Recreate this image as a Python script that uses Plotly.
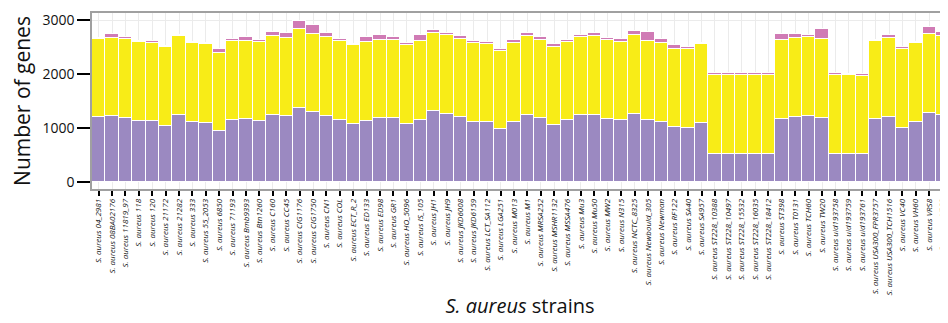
import plotly.graph_objects as go

strains = ["04_2981", "08BA02176", "11819_97", "118", "120", "21172", "21282", "333",
           "55_2053", "6850", "71193", "Bmb9393", "Btn1260", "C160", "CC45", "CIG1176",
           "CIG1750", "CN1", "COL", "ECT_R_2", "ED133", "ED98", "GR1", "HO_5096",
           "IS_105", "JH1", "JH9", "JKD6008", "JKD6159", "LCT_SA112", "LGA251", "M013",
           "M1", "MRSA252", "MSHR1132", "MSSA476", "Mu3", "Mu50", "MW2", "N315",
           "NCTC_8325", "Newbould_305", "Newman", "RF122", "SA40", "SA957", "ST228_10388",
           "ST228_10497", "ST228_15532", "ST228_16035", "ST228_18412", "ST398", "T0131",
           "TCH60", "TW20", "uid193758", "uid193759", "uid193761", "USA300_FPR3757",
           "USA300_TCH1516", "VC40", "VH60", "VRS8", "VRS9"]

purple_genes = [1195, 1213, 1176, 1120, 1120, 1039, 1237, 1102, 1095, 935, 1145, 1163, 1126, 1243,
                1213, 1367, 1288, 1225, 1150, 1071, 1120, 1176, 1176, 1071, 1150, 1306, 1256, 1195,
                1113, 1102, 972, 1102, 1243, 1176, 1046, 1139, 1232, 1243, 1169, 1139, 1262, 1145,
                1100, 1009, 1003, 1095, 514, 514, 514, 514, 514, 1163, 1200, 1219, 1182, 514,
                514, 514, 1157, 1200, 1003, 1113, 1280, 1243]

yellow_genes = [1452, 1459, 1466, 1466, 1453, 1466, 1466, 1471, 1465, 1458, 1460, 1453, 1460, 1466,
                1453, 1460, 1458, 1460, 1460, 1459, 1466, 1459, 1459, 1465, 1460, 1459, 1466, 1458,
                1460, 1458, 1459, 1465, 1466, 1459, 1459, 1458, 1459, 1466, 1460, 1458, 1466, 1465,
                1467, 1459, 1459, 1465, 1460, 1460, 1460, 1460, 1460, 1460, 1466, 1466, 1460, 1466,
                1466, 1453, 1459, 1466, 1459, 1466, 1466, 1466]

pink_genes = [25, 62, 43, 30, 32, 18, 24, 24, 19, 63, 48, 62, 37, 74,
              87, 160, 161, 68, 37, 25, 99, 87, 43, 37, 106, 49, 37, 56,
              32, 37, 31, 56, 50, 50, 55, 32, 37, 50, 31, 50, 74, 167,
              80, 68, 31, 19, 37, 37, 37, 37, 37, 117, 74, 43, 191, 37,
              24, 37, 19, 56, 37, 13, 130, 74]

y_ticks = [0, 1000, 2000, 3000]

labels = ["<i>S. aureus " + s + "</i>" for s in strains]

FONT = "Open Sans"
colors = ["#9b89c1", "#f8ec17", "#d07bb5"]
series = [purple_genes, yellow_genes, pink_genes]

fig = go.Figure()
for vals, col in zip(series, colors):
    fig.add_trace(go.Bar(
        x=labels, y=vals,
        marker=dict(color=col, line=dict(color="white", width=1)),
        showlegend=False,
    ))

fig.update_layout(
    barmode="stack",
    bargap=0,
    width=940, height=315,
    margin=dict(l=84, r=0, t=5, b=134),
    paper_bgcolor="white",
    plot_bgcolor="white",
    font=dict(family=FONT, color="#222"),
)

fig.update_xaxes(
    automargin=False,
    range=[-0.5, 63.4],
    tickangle=-90,
    tickfont=dict(size=8, family=FONT, color="#111"),
    ticks="outside", ticklen=5, tickwidth=2, tickcolor="black",
    showline=True, linecolor="#a0a0a0", linewidth=1.5, mirror=True,
    showgrid=True, gridcolor="#ebebeb", gridwidth=1,
    title=dict(text="<i>S. aureus</i> strains", font=dict(size=20, family=FONT, color="#111"),
               standoff=4),
)

fig.update_yaxes(
    automargin=False,
    range=[-135, 3130],
    tickvals=y_ticks,
    ticktext=[str(v) for v in y_ticks],
    tickfont=dict(size=14, family=FONT, color="#111"),
    ticks="outside", ticklen=13, tickwidth=2, tickcolor="black",
    showline=True, linecolor="#a0a0a0", linewidth=1.5, mirror=True,
    showgrid=True, gridcolor="#ebebeb", gridwidth=1,
    zeroline=False,
    title=dict(text="Number of genes", font=dict(size=21, family=FONT, color="#111"),
               standoff=8),
)

fig.write_html("out.html")
